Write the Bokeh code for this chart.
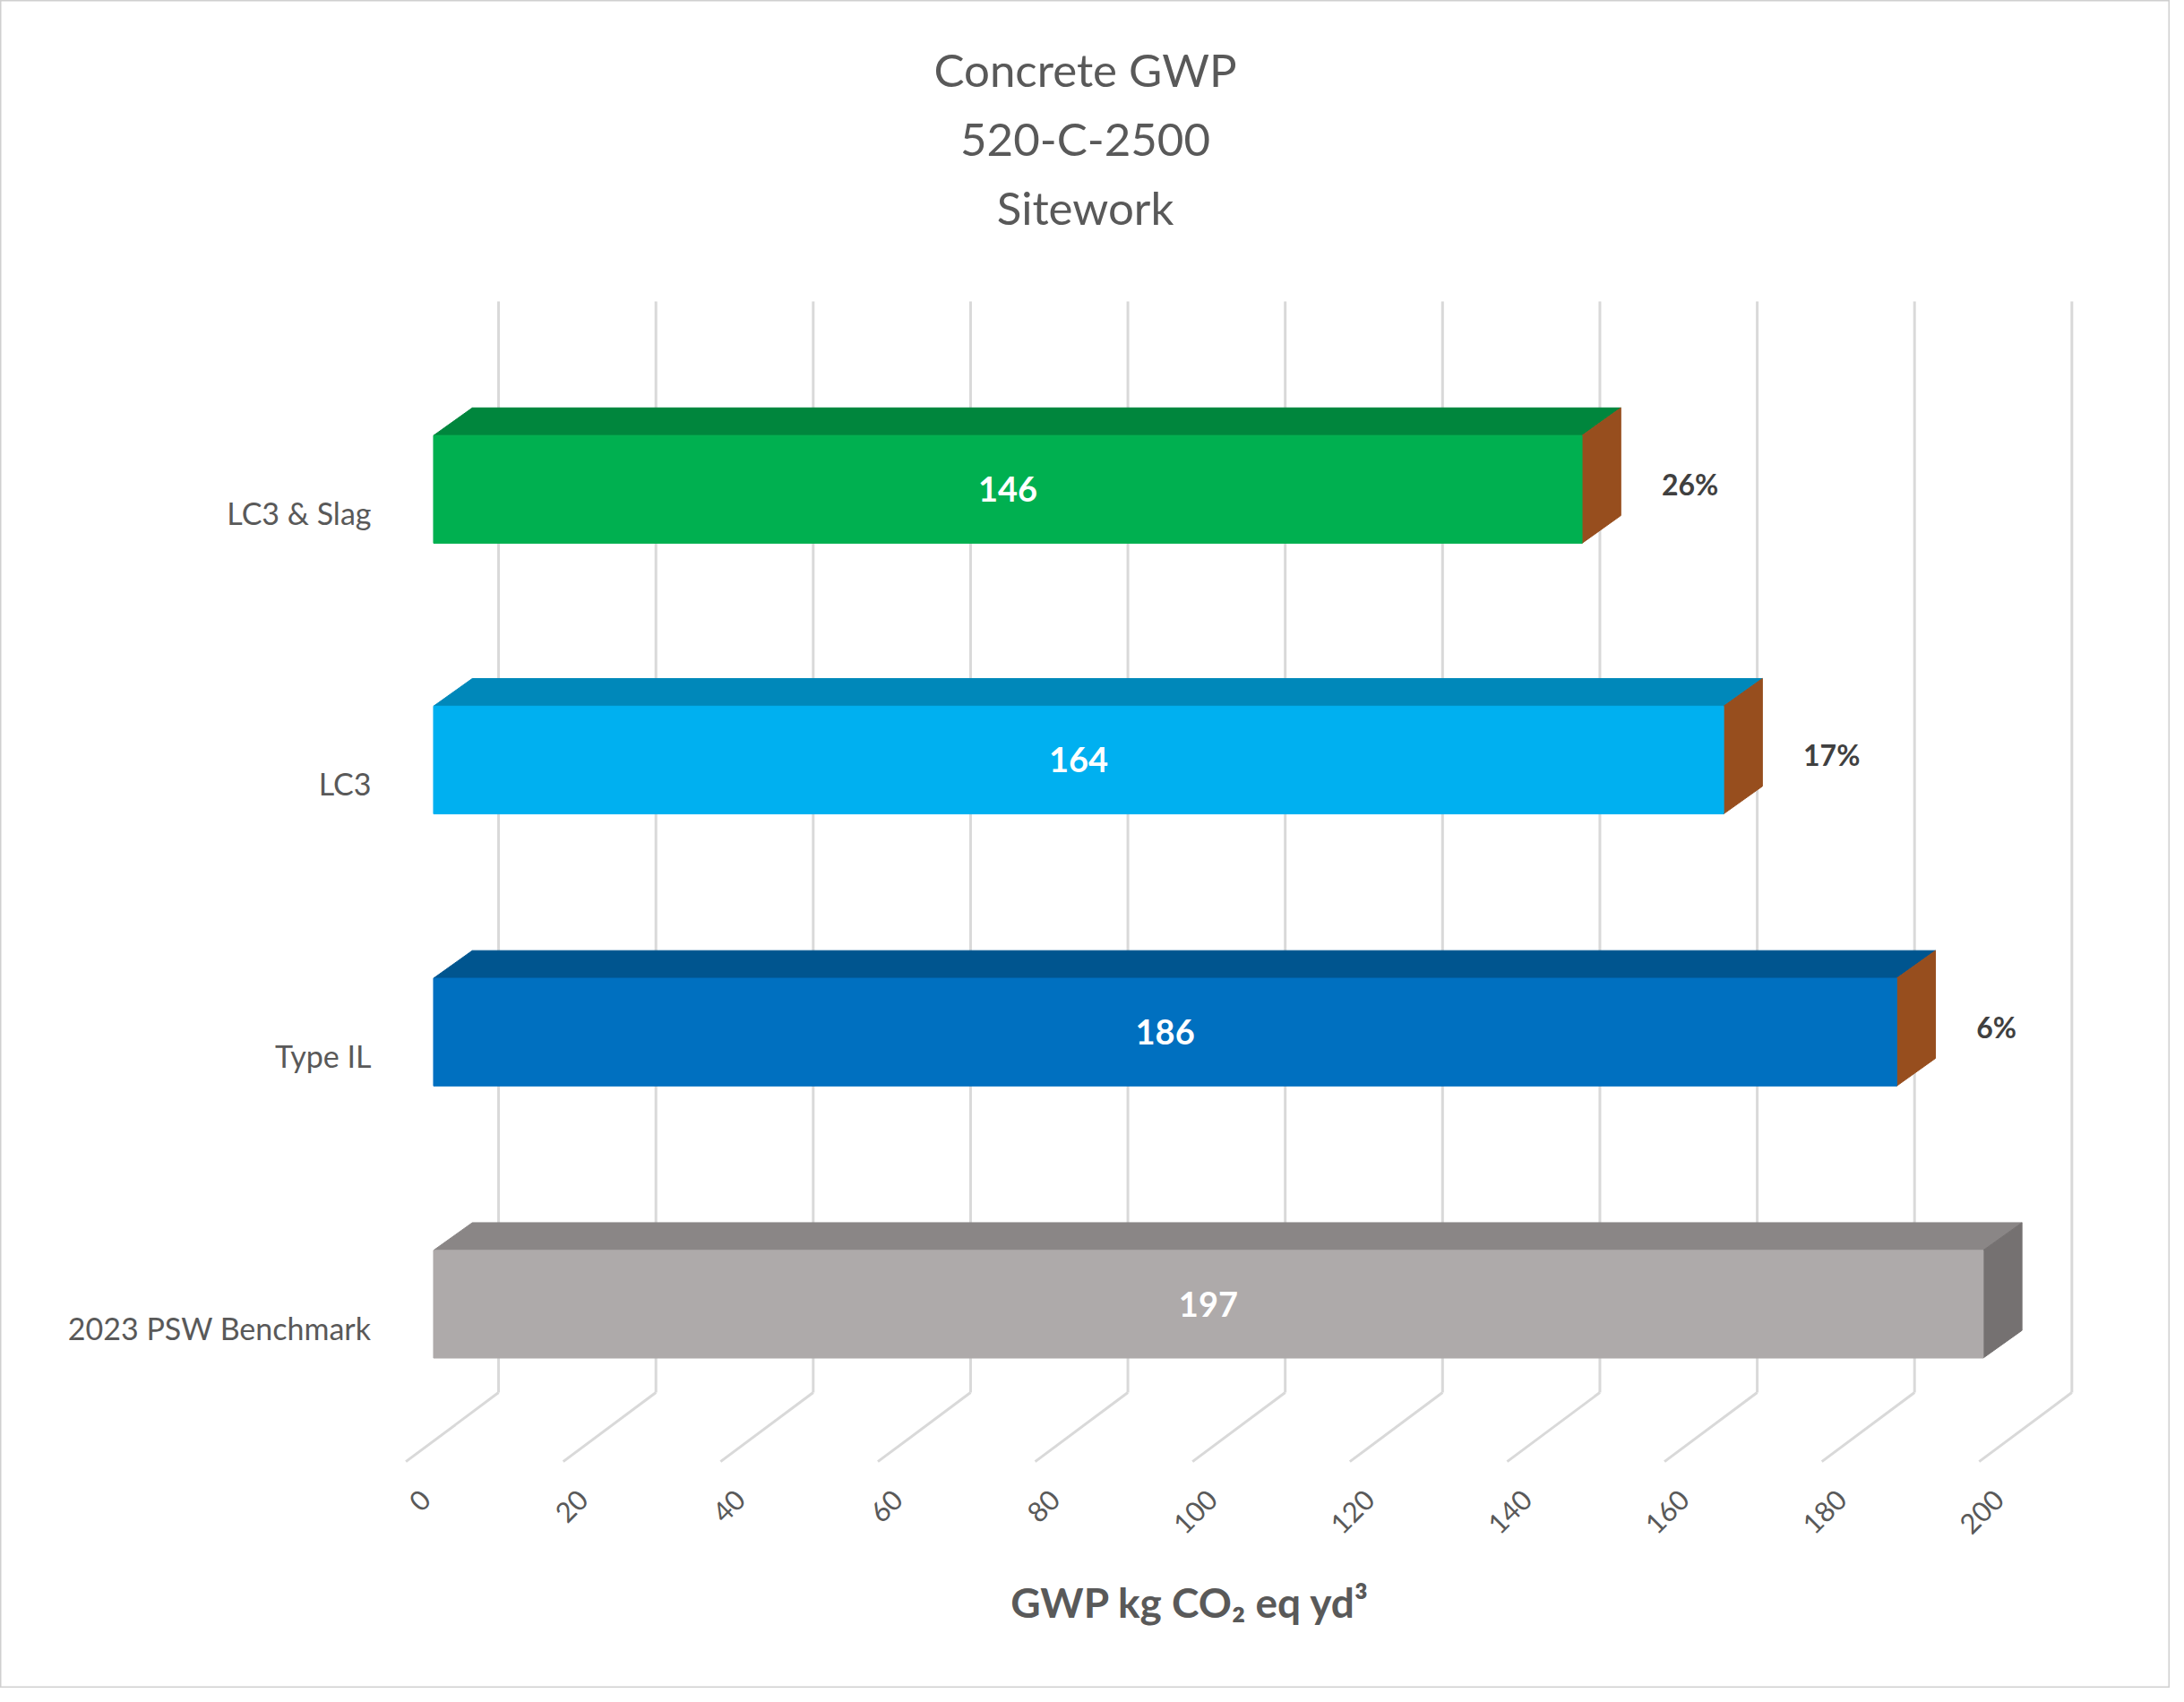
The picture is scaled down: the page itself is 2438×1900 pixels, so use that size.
import math
from bokeh.plotting import figure
from bokeh.models import Range1d
from bokeh.core.properties import value
from bokeh.embed import file_html
from bokeh.resources import INLINE

categories = ["LC3 & Slag", "LC3", "Type IL", "2023 PSW Benchmark"]
gwp = [146, 164, 186, 197]
reductions = ["26%", "17%", "6%", ""]
front_colors = ["#00B050", "#00B0F0", "#0070C0", "#AEAAAA"]
top_colors = ["#00863D", "#0088BA", "#00558F", "#8A8686"]
side_colors = ["#974E1E", "#974E1E", "#974E1E", "#757171"]
ticks = [0, 20, 40, 60, 80, 100, 120, 140, 160, 180, 200]
title_lines = ["Concrete GWP", "520-C-2500", "Sitework"]

S = 1.555          # screen scale
U = 5.685          # reference px per unit
W, H = 2422, 1884
FONT = value("Lato")

p = figure(width=W, height=H, output_backend="svg", toolbar_location=None,
           x_range=Range1d(-313 / U, (1568 - 313) / U),
           y_range=Range1d(1222, 0), min_border=0)
p.axis.visible = False
p.grid.visible = False
p.outline_line_color = "#D0D0D0"
p.outline_line_width = 2
p.background_fill_color = "white"
p.border_fill_color = "white"

dx = 28 / U
dy = 20
gx = 47 / U

# back gridlines and floor
for t in ticks:
    p.segment(x0=[t + gx], y0=[218], x1=[t + gx], y1=[1008], line_color="#D9D9D9", line_width=3)
    p.segment(x0=[t - 20 / U], y0=[1058], x1=[t + gx], y1=[1008], line_color="#D9D9D9", line_width=3)
    p.text(x=[t - 1.0], y=[1082], text=[str(t)], angle=math.pi / 4, text_align="right",
           text_baseline="middle", text_font=FONT, text_font_size=f"{int(20*S)}px",
           text_color="#595959")

centers = [354, 550, 747, 944]
hh = 39
for i, (c, v) in enumerate(zip(categories, gwp)):
    yc = centers[i]
    # top face
    p.patch(x=[0, v, v + dx, dx], y=[yc - hh, yc - hh, yc - hh - dy, yc - hh - dy],
            fill_color=top_colors[i], line_color=top_colors[i])
    # side face
    p.patch(x=[v, v + dx, v + dx, v], y=[yc - hh, yc - hh - dy, yc + hh - dy, yc + hh],
            fill_color=side_colors[i], line_color=side_colors[i])
    # front
    p.quad(left=[0], right=[v], top=[yc - hh], bottom=[yc + hh],
           fill_color=front_colors[i], line_color=front_colors[i])
    p.text(x=[v / 2], y=[yc], text=[str(v)], text_align="center", text_baseline="middle",
           text_font=FONT, text_font_style="bold", text_font_size=f"{int(25*S)}px",
           text_color="white")
    if reductions[i]:
        p.text(x=[v + dx + 5.2], y=[yc - 4], text=[reductions[i]], text_align="left",
               text_baseline="middle", text_font=FONT, text_font_style="bold",
               text_font_size=f"{int(21*S)}px", text_color="#404040")
    p.text(x=[-45 / U], y=[yc + 17], text=[c], text_align="right", text_baseline="middle",
           text_font=FONT, text_font_size=f"{int(22*S)}px", text_color="#595959")

for j, line in enumerate(title_lines):
    p.text(x=[(784 - 313) / U], y=[50 + 50 * j], text=[line], text_align="center",
           text_baseline="middle", text_font=FONT, text_font_size=f"{int(33*S)}px",
           text_color="#595959")

p.text(x=[(860 - 313) / U], y=[1160], text=["GWP kg CO₂ eq yd³"], text_align="center",
       text_baseline="middle", text_font=FONT, text_font_style="bold",
       text_font_size=f"{int(30*S)}px", text_color="#595959")

open("out.html", "w").write(file_html(p, INLINE))
